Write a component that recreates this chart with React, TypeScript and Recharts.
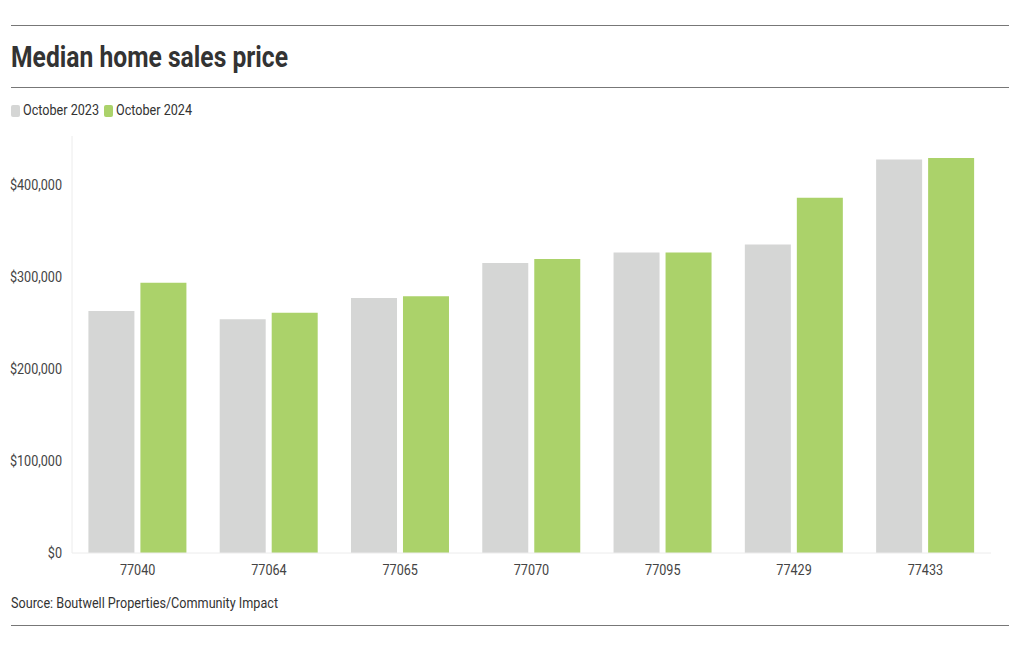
import { BarChart, Bar, CartesianGrid, XAxis, YAxis } from "recharts";

const zipCodes = ["77040", "77064", "77065", "77070", "77095", "77429", "77433"];
const oct2023 = [263000, 254000, 277000, 315000, 326500, 335000, 427500];
const oct2024 = [293500, 261000, 279000, 319500, 326500, 386000, 429000];
const yTicks = [0, 100000, 200000, 300000, 400000];

const data = zipCodes.map((zip, i) => ({ zip, oct2023: oct2023[i], oct2024: oct2024[i] }));

const GRAY = "#d5d6d5";
const GREEN = "#abd26a";
const FONT = "Roboto, sans-serif";
const SQUEEZE = 0.87;

const fmt = (v: number) => "$" + v.toLocaleString("en-US");

// Roboto is not condensed, so squeeze it horizontally
const Narrow = ({ children, k = SQUEEZE }: { children: React.ReactNode; k?: number }) => (
  <span style={{ display: "inline-block", transform: `scaleX(${k})`, transformOrigin: "left center", whiteSpace: "nowrap" }}>
    {children}
  </span>
);

const XTick = (props: any) => {
  const { x, y, payload } = props;
  return (
    <g transform={`translate(${x},${y})`}>
      <text transform={`scale(${SQUEEZE},1)`} dy={14} textAnchor="middle" fill="#444" fontSize={14.5} fontFamily={FONT}>
        {payload.value}
      </text>
    </g>
  );
};

const YTick = (props: any) => {
  const { x, y, payload } = props;
  return (
    <g transform={`translate(${x},${y})`}>
      <text transform={`scale(${SQUEEZE},1)`} dy={5} textAnchor="end" fill="#444" fontSize={14.5} fontFamily={FONT}>
        {fmt(payload.value)}
      </text>
    </g>
  );
};

// grid lines only at the non-zero ticks (no line at the top edge)
const gridRows = ({ yAxis }: any) =>
  yAxis && typeof yAxis.scale === "function" ? yTicks.slice(1).map((t) => yAxis.scale(t)) : [];

const rule = (top: number) => (
  <div style={{ position: "absolute", left: 3, top, width: 998, height: 1, background: "#777" }} />
);

export default function App() {
  return (
    <div style={{ position: "relative", width: 1004, height: 634, fontFamily: FONT, color: "#333" }}>
      {rule(17)}
      <div style={{ position: "absolute", left: 3, top: 32, fontSize: 29, fontWeight: 700, lineHeight: "34px", color: "#333" }}>
        <Narrow k={0.85}>Median home sales price</Narrow>
      </div>
      {rule(79)}
      <div style={{ position: "absolute", left: 3, top: 94, display: "flex", alignItems: "center", fontSize: 14.5, lineHeight: "18px", color: "#333" }}>
        <span style={{ display: "inline-block", width: 9, height: 12, borderRadius: 2, background: GRAY, marginRight: 3 }} />
        <span style={{ width: 81 }}><Narrow>October 2023</Narrow></span>
        <span style={{ display: "inline-block", width: 9, height: 12, borderRadius: 2, background: GREEN, marginRight: 3 }} />
        <span><Narrow>October 2024</Narrow></span>
      </div>
      <div style={{ position: "absolute", left: 0, top: 120 }}>
        <BarChart
          width={1004}
          height={460}
          data={data}
          margin={{ top: 8, right: 21, bottom: 5, left: 0 }}
          barCategoryGap="12.5%"
          barGap={6}
        >
          <CartesianGrid stroke="#ececec" vertical={false} horizontalCoordinatesGenerator={gridRows} />
          <XAxis
            dataKey="zip"
            height={30}
            tickLine={false}
            axisLine={{ stroke: "#ececec" }}
            tick={<XTick />}
          />
          <YAxis
            width={64}
            domain={[0, 453000]}
            ticks={yTicks}
            tickLine={false}
            tickMargin={4}
            axisLine={{ stroke: "#ececec" }}
            tick={<YTick />}
          />
          <Bar dataKey="oct2023" name="October 2023" fill={GRAY} isAnimationActive={false} />
          <Bar dataKey="oct2024" name="October 2024" fill={GREEN} isAnimationActive={false} />
        </BarChart>
      </div>
      <div style={{ position: "absolute", left: 3, top: 587, fontSize: 14.5, lineHeight: "18px", color: "#333" }}>
        <Narrow>Source: Boutwell Properties/Community Impact</Narrow>
      </div>
      {rule(617)}
    </div>
  );
}
